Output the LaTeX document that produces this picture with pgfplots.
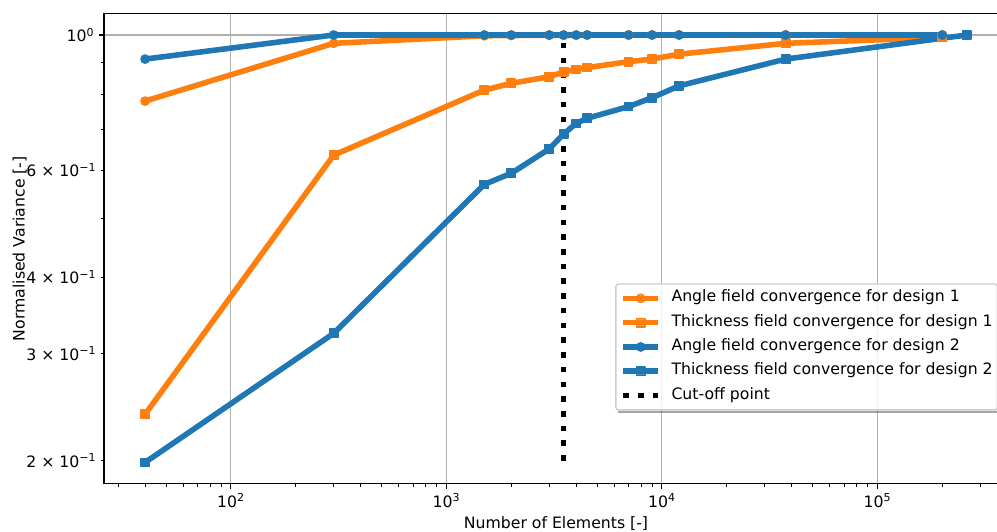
\documentclass[border=0pt]{standalone}
\usepackage{fontspec}
\setmainfont{DejaVu Sans}
\usepackage{pgfplots}
\pgfplotsset{compat=1.18}
\definecolor{tabblue}{HTML}{1F77B4}
\definecolor{taborange}{HTML}{FF7F0E}
\definecolor{gridgray}{HTML}{B0B0B0}
\definecolor{leggray}{HTML}{CCCCCC}
\newcommand{\fs}{\fontsize{11.3bp}{13.5bp}\selectfont}

\pgfplotstableread{
x y
40 0.779
300 0.969
1500 0.997
2000 0.998
3000 0.999
3500 0.999
4000 0.999
4500 1.0
7000 1.0
9000 1.0
12000 1.0
37500 1.0
200000 1.0
}\angleone
\pgfplotstableread{
x y
40 0.2383
300 0.635
1500 0.812
2000 0.833
3000 0.854
3500 0.870
4000 0.878
4500 0.884
7000 0.904
9000 0.913
12000 0.930
37500 0.969
200000 0.991
}\thickone
\pgfplotstableread{
x y
40 0.913
300 1.0
1500 1.0
2000 1.0
3000 1.0
3500 1.0
4000 1.0
4500 1.0
7000 1.0
9000 1.0
12000 1.0
37500 1.0
200000 1.0
}\angletwo
\pgfplotstableread{
x y
40 0.1987
300 0.3237
1500 0.5685
2000 0.5929
3000 0.650
3500 0.6878
4000 0.716
4500 0.730
7000 0.763
9000 0.789
12000 0.825
37500 0.913
260000 1.0
}\thicktwo

\begin{document}
\begin{tikzpicture}
\useasboundingbox (-74.88bp,-34.7bp) rectangle (642.96bp,348.3bp);
\clip (-74.88bp,-34.7bp) rectangle (642.96bp,348.3bp);
\begin{loglogaxis}[
  at={(0,0)}, anchor=south west,
  scale only axis, width=650.9bp, height=338.5bp,
  xmin=25.79, xmax=403420, ymin=0.1833, ymax=1.0842,
  font=\fs,
  tick label style={font=\fs},
  label style={font=\fs},
  xtick={100,1000,10000,100000},
  xticklabels={10\textsuperscript{2},10\textsuperscript{3},10\textsuperscript{4},10\textsuperscript{5}},
  minor xtick={30,40,50,60,70,80,90,200,300,400,500,600,700,800,900,2000,3000,4000,5000,6000,7000,8000,9000,20000,30000,40000,50000,60000,70000,80000,90000,200000,300000,400000},
  ytick={1}, yticklabels={10\textsuperscript{0}},
  extra y ticks={0.2,0.3,0.4,0.6},
  extra y tick labels={2\ ×\ 10\textsuperscript{−1},3\ ×\ 10\textsuperscript{−1},4\ ×\ 10\textsuperscript{−1},6\ ×\ 10\textsuperscript{−1}},
  extra y tick style={grid=none, major tick length=2bp, major tick style={line width=0.6bp}},
  minor ytick={0.5,0.7,0.8,0.9},
  tick pos=left, tick align=outside,
  major tick length=3.5bp, minor tick length=2bp,
  major tick style={black, line width=0.8bp},
  minor tick style={black, line width=0.6bp},
  axis line style={black, line width=0.8bp},
  xmajorgrids, ymajorgrids,
  major grid style={gridgray, line width=0.8bp},
  xlabel={Number of Elements [-]},
  ylabel={Normalised Variance [-]},
  ylabel shift=-10.5bp,
  every axis plot/.append style={line width=4bp, line join=round},
  legend cell align=left,
  legend image code/.code={%
    \path (0bp,0bp) (25bp,0bp);
    \draw[mark repeat=2,mark phase=2] plot coordinates {(0bp,0bp)(12.5bp,0bp)(25bp,0bp)};},
  legend style={name=leg, at={(0.989,0.291)}, anchor=east, draw=leggray, line width=1bp,
    rounded corners=2bp, fill=white, fill opacity=0.8, text opacity=1, draw opacity=1,
    font=\fs,
    inner xsep=3.4bp, inner ysep=1.6bp, row sep=0pt,
    nodes={inner xsep=0pt, inner ysep=3.35bp, text height=8bp, text depth=2.8bp},
    /tikz/every odd column/.append style={column sep=7.7bp}},
]
\addplot[taborange, mark=*, mark size=3bp, mark options={solid, line width=1bp}] table {\angleone};
\addlegendentry{Angle field convergence for design 1}
\addplot[taborange, mark=square*, mark size=3bp, mark options={solid, line width=1bp}] table {\thickone};
\addlegendentry{Thickness field convergence for design 1}
\addplot[tabblue, mark=*, mark size=3bp, mark options={solid, line width=1bp}] table {\angletwo};
\addlegendentry{Angle field convergence for design 2}
\addplot[tabblue, mark=square*, mark size=3bp, mark options={solid, line width=1bp}] table {\thicktwo};
\addlegendentry{Thickness field convergence for design 2}
\addplot[black, line width=4bp, dash pattern=on 4bp off 6.6bp] coordinates {(3500,0.2) (3500,1.0)};
\addlegendentry{Cut-off point}
\end{loglogaxis}
\fill[black!70, opacity=0.5] ([xshift=2bp]leg.south west) rectangle ([xshift=2bp, yshift=-2bp]leg.south east);
\end{tikzpicture}
\end{document}
